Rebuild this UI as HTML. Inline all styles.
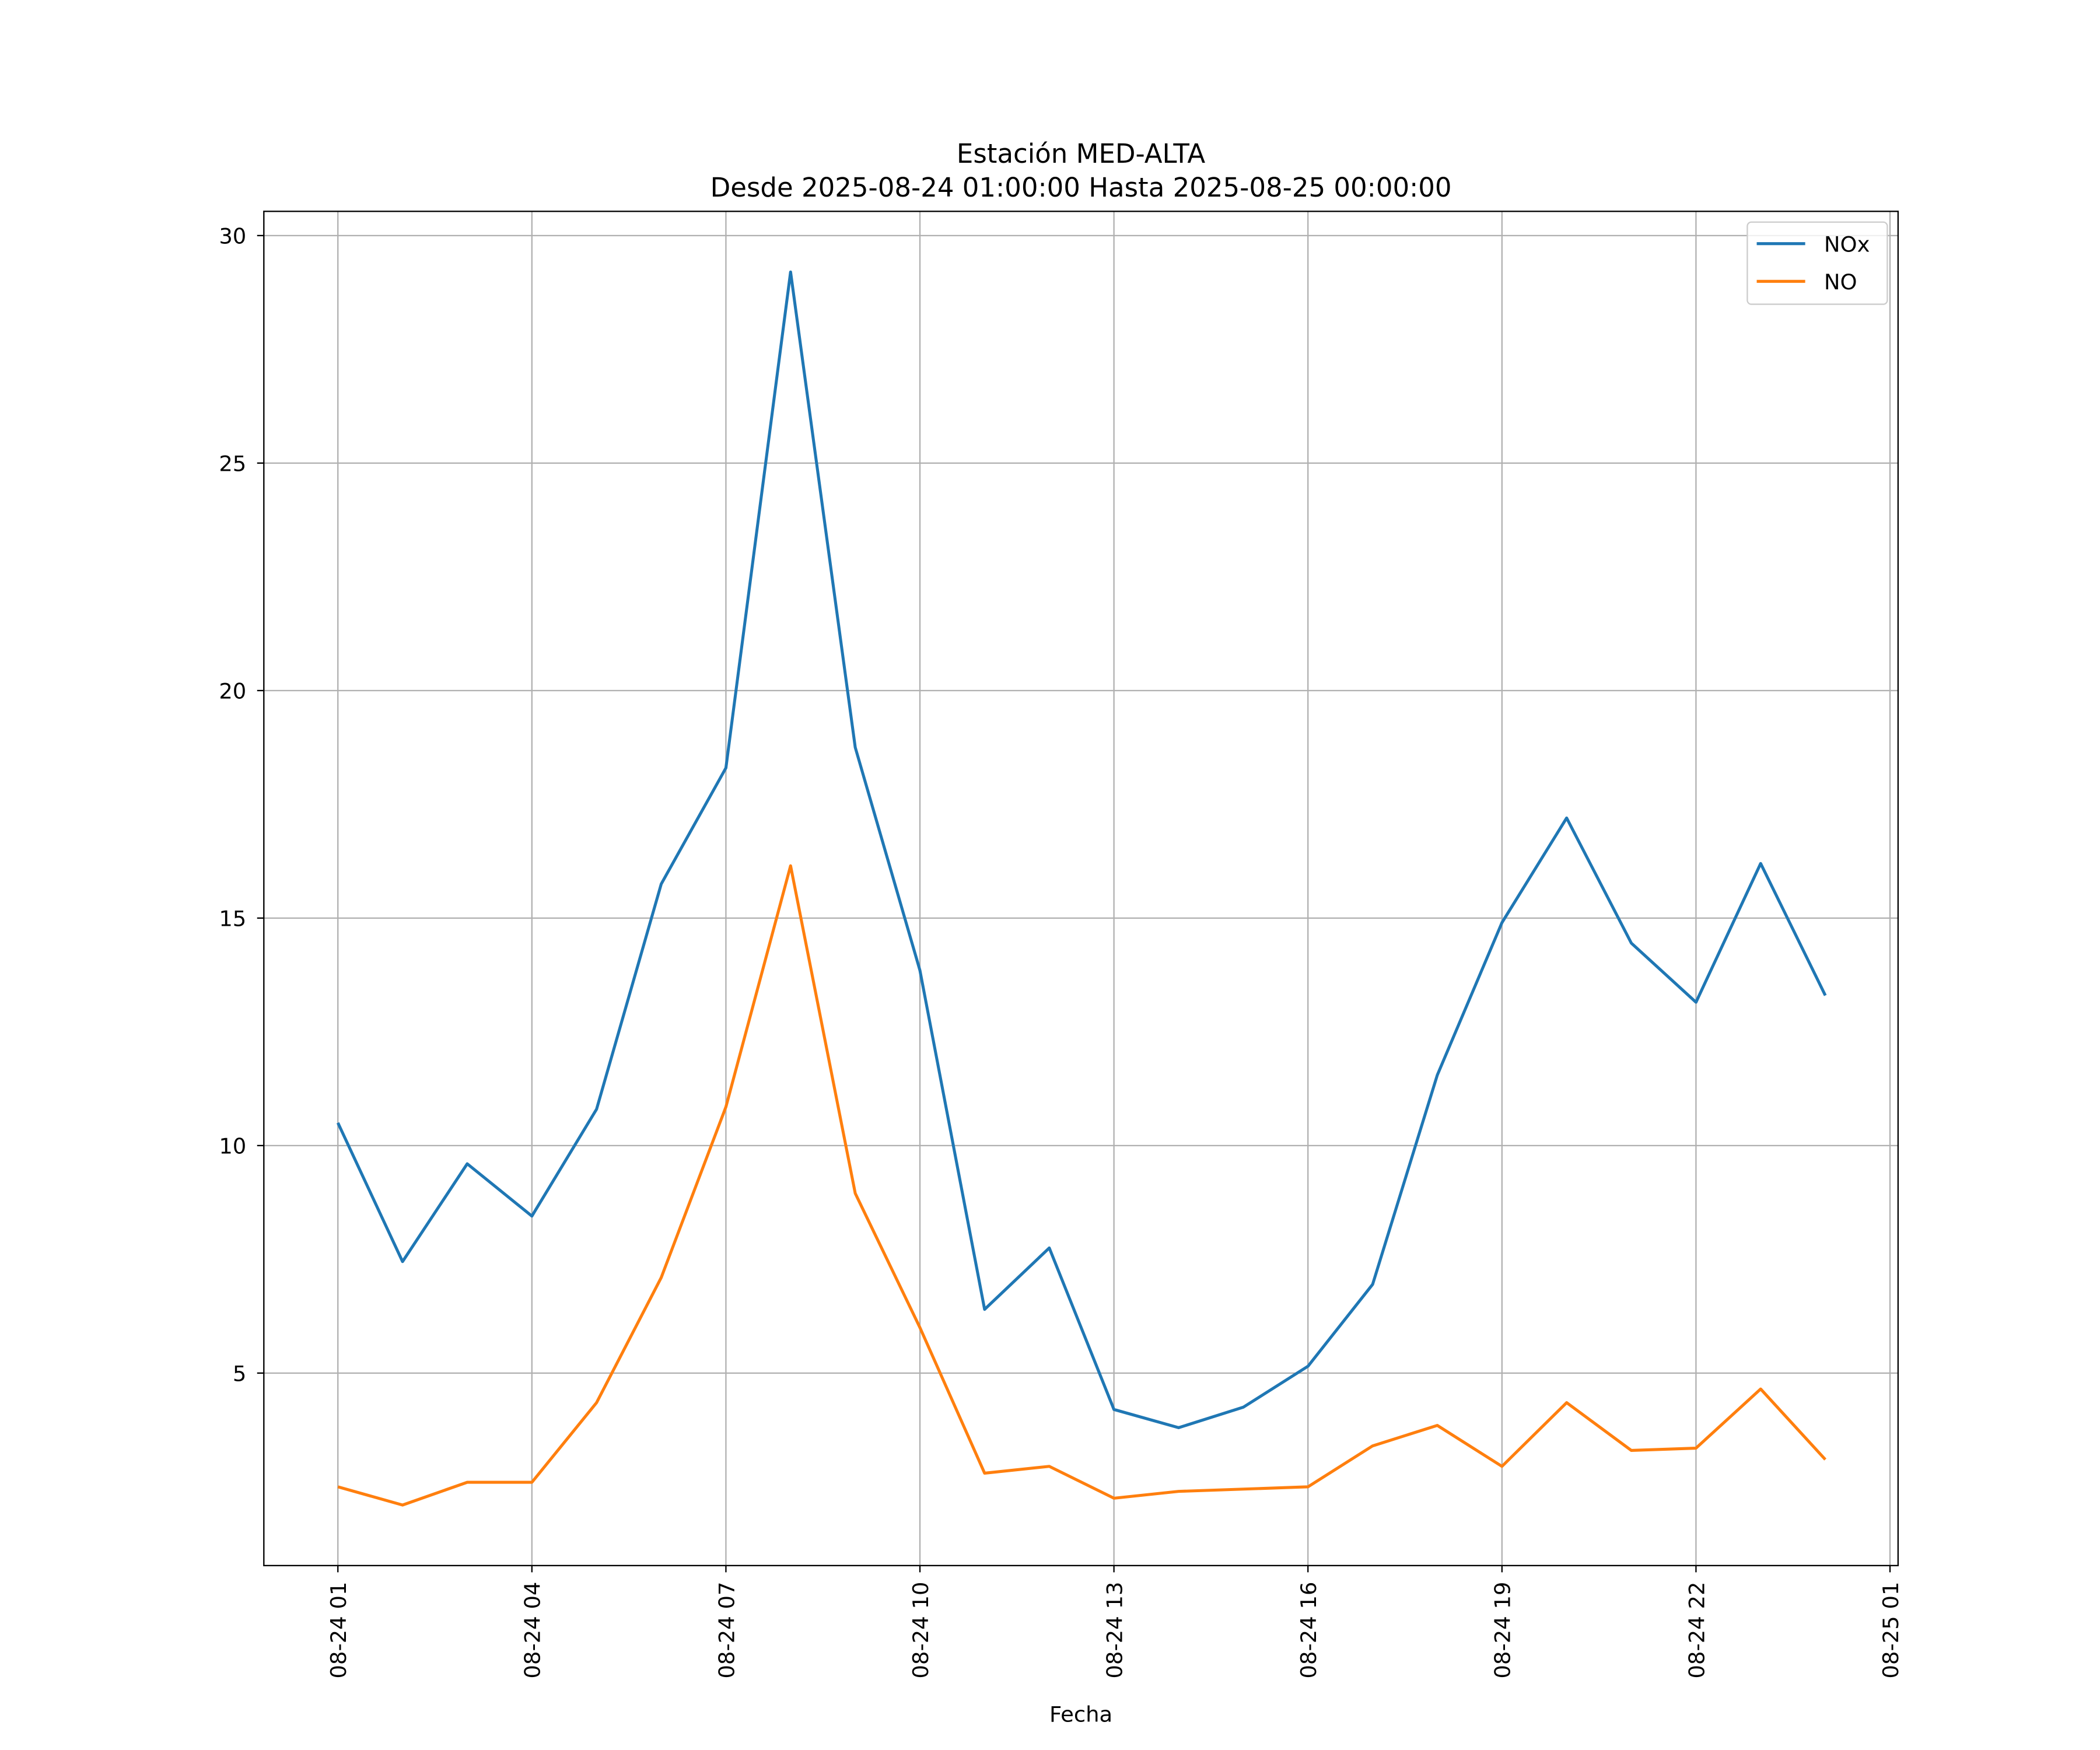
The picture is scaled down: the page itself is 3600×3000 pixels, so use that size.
<!DOCTYPE html>
<html><head><meta charset="utf-8">
<style>
html,body{margin:0;padding:0;background:#fff;}
svg{display:block;}
text{font-family:"DejaVu Sans","Liberation Sans",sans-serif;fill:#000;}
</style></head>
<body>
<svg id="chart" width="3600" height="3000" viewBox="0 0 1560 1300" xmlns="http://www.w3.org/2000/svg">
<rect width="1560" height="1300" fill="#fff"/>
<text x="803" y="121" font-size="19.5" text-anchor="middle">Estación MED-ALTA</text>
<text x="803" y="146" font-size="19.5" text-anchor="middle">Desde 2025-08-24 01:00:00 Hasta 2025-08-25 00:00:00</text>
<g id="grid"></g>
<g id="series"></g>
<rect x="196" y="157" width="1214" height="1006" fill="none" stroke="#000" stroke-width="1"/>
<g id="ticks"></g>
<text x="803" y="1279" font-size="16" text-anchor="middle">Fecha</text>
<g>
<rect x="1298" y="165" width="104" height="61" rx="3" fill="#fff" fill-opacity="0.8" stroke="#ccc"/>
<line x1="1305" y1="181" x2="1341" y2="181" stroke="#1f77b4" stroke-width="2.2"/>
<text x="1355" y="187" font-size="16">NOx</text>
<line x1="1305" y1="209" x2="1341" y2="209" stroke="#ff7f0e" stroke-width="2.2"/>
<text x="1355" y="215" font-size="16">NO</text>
</g>
</svg>
<script>
const hours = [0,1,2,3,4,5,6,7,8,9,10,11,12,13,14,15,16,17,18,19,20,21,22,23];
const noxValues = [10.5,7.45,9.6,8.45,10.8,15.75,18.3,29.2,18.75,13.85,6.4,7.75,4.2,3.8,4.25,5.15,6.95,11.55,14.9,17.2,14.45,13.15,16.2,13.3];
const noValues = [2.5,2.1,2.6,2.6,4.35,7.1,10.85,16.15,8.95,6.0,2.8,2.95,2.25,2.4,2.45,2.5,3.4,3.85,2.95,4.35,3.3,3.35,4.65,3.1];
const yTicks = [5,10,15,20,25,30];
const xTickHours = [0,3,6,9,12,15,18,21,24];
const xTickLabels = ["08-24 01","08-24 04","08-24 07","08-24 10","08-24 13","08-24 16","08-24 19","08-24 22","08-25 01"];

const NS = "http://www.w3.org/2000/svg";
function xs(h){ return 251 + h * (1404 - 251) / 24; }
function ys(v){ return 1020 - (v - 5) * 33.8; }
function mk(tag, attrs, parent){
  const e = document.createElementNS(NS, tag);
  for (const k in attrs) e.setAttribute(k, attrs[k]);
  parent.appendChild(e);
  return e;
}
const grid = document.getElementById('grid');
const ticks = document.getElementById('ticks');
const series = document.getElementById('series');

yTicks.forEach(v => {
  const y = ys(v);
  const g = mk('line', {x1:196, x2:1410, y1:y, y2:y, stroke:'#b0b0b0', 'stroke-width':1}, grid);
  
  
  const t = mk('line', {x1:191, x2:196, y1:y, y2:y, stroke:'#000', 'stroke-width':1}, ticks);
  
  
  const l = mk('text', {x:183, y:y+6, 'font-size':16, 'text-anchor':'end'}, ticks);
  l.textContent = String(v);
  
  
});

xTickHours.forEach((h, i) => {
  const x = xs(h);
  const g = mk('line', {x1:x, x2:x, y1:157, y2:1163, stroke:'#b0b0b0', 'stroke-width':1}, grid);
  
  
  const t = mk('line', {x1:x, x2:x, y1:1163, y2:1168, stroke:'#000', 'stroke-width':1}, ticks);
  
  
  const l = mk('text', {x:0, y:0, 'font-size':16, 'text-anchor':'end', transform:'translate(' + (x+6) + ',1175) rotate(-90)'}, ticks);
  l.textContent = xTickLabels[i];
  
  
});

function drawLine(vals, color, name){
  const pts = vals.map((v, i) => xs(hours[i]).toFixed(2) + ',' + ys(v).toFixed(2)).join(' ');
  const p = mk('polyline', {points:pts, fill:'none', stroke:color, 'stroke-width':2.2, 'stroke-linejoin':'round'}, series);
  
  
}
drawLine(noxValues, '#1f77b4', 'nox-line');
drawLine(noValues, '#ff7f0e', 'no-line');
</script>
</body></html>
